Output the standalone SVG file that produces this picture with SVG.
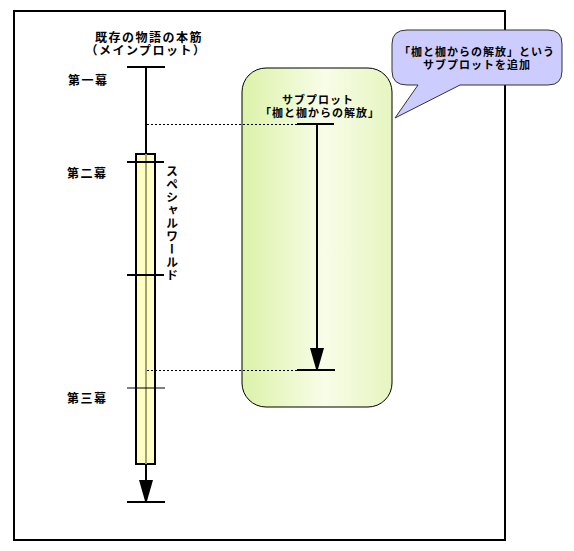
<svg xmlns="http://www.w3.org/2000/svg" width="574" height="551" viewBox="0 0 574 551">
<style>
text{font-family:"Noto Sans CJK JP","Noto Sans CJK SC",sans-serif;font-weight:bold;fill:#000;}
.t13{font-size:12px;letter-spacing:1.5px;}
.t12{font-size:11px;letter-spacing:1px;}
.thick{stroke:#000;stroke-width:2;fill:none;}
.thin{stroke:#000;stroke-width:1;fill:none;}
.dot{stroke:#000;stroke-width:1;stroke-dasharray:2 2;fill:none;}
.head{fill:#000;stroke:none;}
</style>
<defs>
<linearGradient id="grn" x1="0" y1="0" x2="1" y2="0">
<stop offset="0" stop-color="#dcf2a8"/>
<stop offset="0.55" stop-color="#f8fde8"/>
<stop offset="1" stop-color="#e6f5c0"/>
</linearGradient>
</defs>
<rect width="574" height="551" fill="#fff"/>
<rect id="frame" x="14" y="11" width="491" height="529" fill="none" stroke="#000" stroke-width="2"/>

<g id="subplot-box">
<rect x="242" y="68" width="150" height="339" rx="24" ry="24" fill="url(#grn)" stroke="#000" stroke-width="1"/>
<text class="t12" x="318" y="104" text-anchor="middle">サブプロット</text>
<text class="t12" x="320" y="117" text-anchor="middle">「枷と枷からの解放」</text>
</g>

<g id="callout">
<path d="M407,30 H548 Q562,30 562,44 V71 Q562,85 548,85 H460 L395,118 L418,85 H407 Q392,85 392,71 V44 Q392,30 407,30 Z" fill="#ccccff" stroke="#333" stroke-width="1"/>
<text class="t12" x="477" y="56" text-anchor="middle">「枷と枷からの解放」という</text>
<text class="t12" x="477" y="69" text-anchor="middle">サブプロットを追加</text>
</g>

<g id="main-title">
<text class="t13" x="149" y="42" text-anchor="middle">既存の物語の本筋</text>
<text class="t13" x="146" y="55" text-anchor="middle">（メインプロット）</text>
</g>

<g id="act-labels">
<text class="t13" x="68" y="85">第一幕</text>
<text class="t13" x="67" y="178">第二幕</text>
<text class="t13" x="67" y="403">第三幕</text>
</g>

<g id="special-world">
<rect x="136" y="154" width="19" height="310" fill="#ffffc4" stroke="#000" stroke-width="2"/>
<line x1="146" y1="154" x2="146" y2="464" stroke="#a5a070" stroke-width="2"/>
<text x="172" y="165" style="writing-mode:vertical-rl;font-size:12px;letter-spacing:1px" fill="#10102a">スペシャルワールド</text>
</g>

<g id="connectors">
<line class="thick" x1="146" y1="67" x2="146" y2="154"/>
<line class="thick" x1="127" y1="67" x2="165" y2="67"/>
<line class="thick" x1="127" y1="162" x2="164" y2="162"/>
<line class="thick" x1="127" y1="275" x2="164" y2="275"/>
<line class="thin" x1="127" y1="388" x2="165" y2="388"/>
<line class="thick" x1="146" y1="464" x2="146" y2="482"/>
<path class="head" d="M139,480 L153,480 L147,501 L145,501 Z"/>
<line class="thick" x1="127" y1="502" x2="165" y2="502"/>

<line class="dot" x1="147" y1="124.5" x2="297" y2="124.5"/>
<line class="dot" x1="147" y1="370.5" x2="297" y2="370.5"/>

<line class="thick" x1="297" y1="124" x2="334" y2="124"/>
<line class="thick" x1="317" y1="124" x2="317" y2="350"/>
<path class="head" d="M310,348 L324,348 L318,369 L316,369 Z"/>
<line class="thick" x1="297" y1="370" x2="335" y2="370"/>
</g>
</svg>
